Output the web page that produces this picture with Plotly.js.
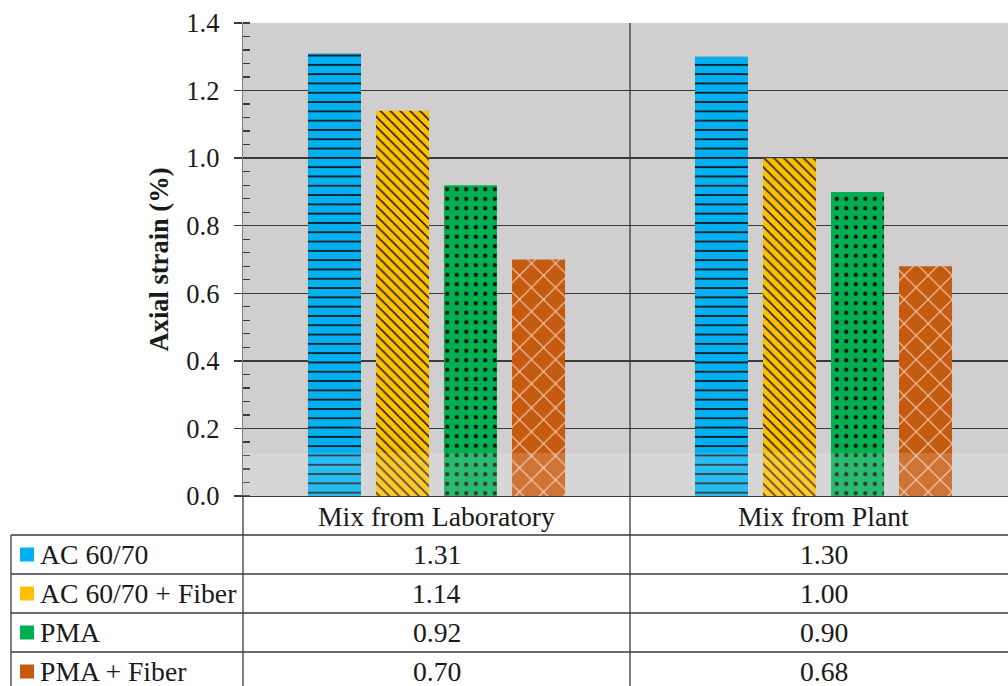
<!DOCTYPE html>
<html>
<head>
<meta charset="utf-8">
<script src="https://cdn.plot.ly/plotly-3.0.1.min.js"></script>
<style>html,body{margin:0;padding:0;background:#fff;overflow:hidden;}#chart{width:1008px;height:686px;}</style>
</head>
<body>
<div id="chart"></div>
<script>
// ---- data ----
var categories = ["Mix from Laboratory", "Mix from Plant"];
var seriesNames = ["AC 60/70", "AC 60/70 + Fiber", "PMA", "PMA + Fiber"];
var acValues = [1.31, 1.30];
var acFiberValues = [1.14, 1.00];
var pmaValues = [0.92, 0.90];
var pmaFiberValues = [0.70, 0.68];
var yTickVals = [0.0, 0.2, 0.4, 0.6, 0.8, 1.0, 1.2, 1.4];
var yTitle = "Axial strain (%)";

// ---- styles ----
var colors = ["#00b0f0", "#ffc000", "#00b050", "#c55a11"];
var patterns = [
  {shape: "-", fgcolor: "#111", size: 9.3, solidity: 0.18},
  {shape: "\\", fgcolor: "#111", size: 7, solidity: 0.22},
  {shape: ".", fgcolor: "#111", size: 9.5, solidity: 0.16},
  {shape: "x", fgcolor: "#f6d2b8", size: 17, solidity: 0.12}
];
var allSeries = [acValues, acFiberValues, pmaValues, pmaFiberValues];
var FONT = "Liberation Serif";
var TXT = 27.7;
var W = 1008, H = 686, L = 243, T = 23, B = 190, R = 0;
var pw = W - L - R, ph = H - T - B;
var plotBottom = H - B;
function px(x) { return (x - L) / pw; }
function py(y) { return (plotBottom - y) / ph; }
var xIdx = categories.map(function (c, i) { return i; });
var xRange = [-0.5, -0.5 + pw / 387];

var traces = allSeries.map(function (vals, i) {
  var pat = Object.assign({bgcolor: colors[i], fillmode: "replace"}, patterns[i]);
  return {
    type: "bar", name: seriesNames[i], x: xIdx, y: vals,
    marker: {color: colors[i], opacity: 1, line: {width: 0}, pattern: pat},
    hoverinfo: "skip", showlegend: false
  };
});

var lineColor = "#3a3a3a";
var shapes = [];
shapes.push({type: "rect", xref: "paper", yref: "paper", x0: 0, x1: 1, y0: 0, y1: py(453),
  fillcolor: "rgba(255,255,255,0.16)", line: {width: 0}, layer: "above"});
[535, 574, 613, 652].forEach(function (y) {
  shapes.push({type: "line", xref: "paper", yref: "paper", x0: px(11), x1: px(W), y0: py(y), y1: py(y),
    line: {color: lineColor, width: 1.3}});
});
shapes.push({type: "line", xref: "paper", yref: "paper", x0: px(11), x1: px(11), y0: py(535), y1: py(H + 2), line: {color: lineColor, width: 1.3}});
shapes.push({type: "line", xref: "paper", yref: "paper", x0: px(243), x1: px(243), y0: py(496), y1: py(H + 2), line: {color: lineColor, width: 1.3}});
shapes.push({type: "line", xref: "paper", yref: "paper", x0: px(630), x1: px(630), y0: 1, y1: py(H + 2), line: {color: lineColor, width: 1.3}});

var rowCenters = [554.5, 593.5, 632.5, 671.5];
var annotations = [];
categories.forEach(function (c, i) {
  annotations.push({xref: "x", yref: "paper", x: i, y: py(516), text: c, showarrow: false,
    xanchor: "center", yanchor: "middle", font: {family: FONT, size: TXT, color: "#1a1a1a"}});
});
seriesNames.forEach(function (n, r) {
  shapes.push({type: "rect", xref: "paper", yref: "paper", x0: px(20), x1: px(34),
    y0: py(rowCenters[r] + 7), y1: py(rowCenters[r] - 7), fillcolor: colors[r], line: {width: 0}});
  annotations.push({xref: "paper", yref: "paper", x: px(38), y: py(rowCenters[r]), text: n, showarrow: false,
    xanchor: "left", yanchor: "middle", font: {family: FONT, size: TXT, color: "#1a1a1a"}});
  allSeries[r].forEach(function (v, i) {
    annotations.push({xref: "x", yref: "paper", x: i, y: py(rowCenters[r]), text: v.toFixed(2), showarrow: false,
      xanchor: "center", yanchor: "middle", font: {family: FONT, size: TXT, color: "#1a1a1a"}});
  });
});

var layout = {
  width: W, height: H,
  margin: {l: L, r: R, t: T, b: B, pad: 0},
  paper_bgcolor: "#ffffff", plot_bgcolor: "#d0cece",
  font: {family: FONT, color: "#1a1a1a"},
  barmode: "group", bargap: 0.297, bargroupgap: 0.22,
  xaxis: {range: xRange, showticklabels: false, showgrid: false, zeroline: false, ticks: "",
    showline: true, linecolor: lineColor, linewidth: 1.3, fixedrange: true},
  yaxis: {range: [0, 1.4], tickvals: yTickVals, tickformat: ".1f",
    tickfont: {family: FONT, size: 26.5, color: "#1a1a1a"},
    ticks: "outside", ticklen: 8, tickcolor: lineColor, tickwidth: 1.3, ticklabelstandoff: 9,
    showgrid: true, gridcolor: lineColor, gridwidth: 1.3, zeroline: false,
    showline: true, linecolor: "#808080", linewidth: 1.3,
    minor: {ticks: "inside", dtick: 0.04, tick0: 0, ticklen: 7, tickcolor: lineColor, tickwidth: 1.3, showgrid: false},
    title: {text: "<b>" + yTitle + "</b>", font: {family: FONT, size: 26.5, color: "#1a1a1a"}, standoff: 10},
    automargin: false, fixedrange: true},
  shapes: shapes, annotations: annotations
};
Plotly.newPlot("chart", traces, layout, {displayModeBar: false, staticPlot: true});
</script>
</body>
</html>
